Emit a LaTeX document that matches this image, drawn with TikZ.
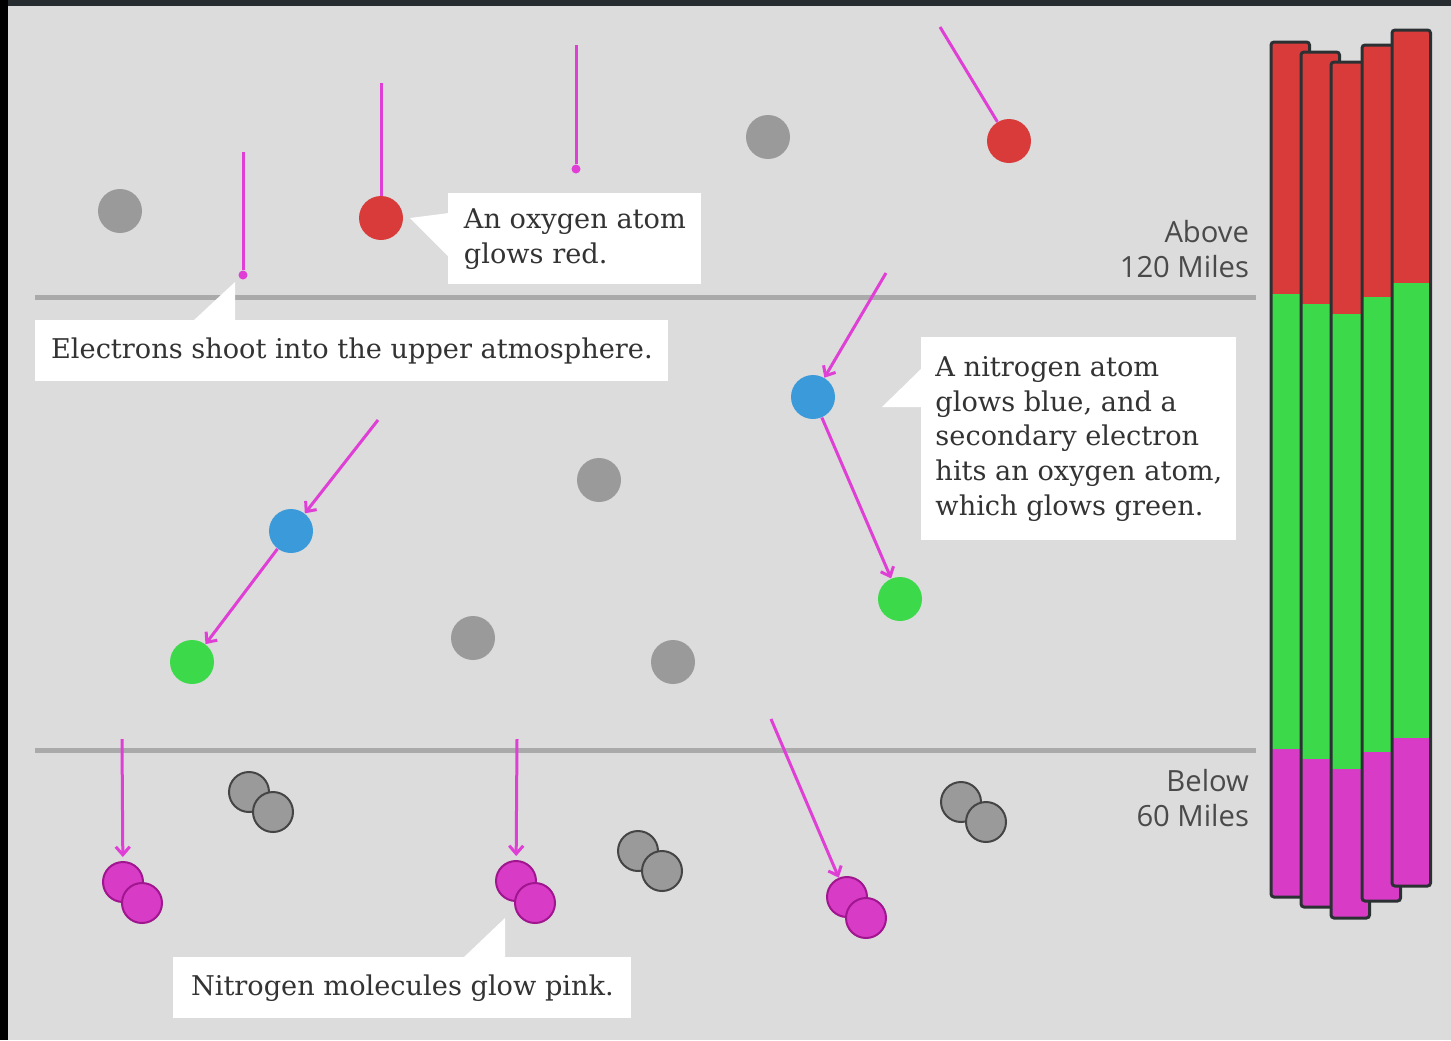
\documentclass[tikz,border=0pt]{standalone}
\usepackage{fontspec}
\setmainfont{DejaVu Serif}
\newfontfamily\milesfont{Open Sans}
\usepackage{tikz}
\usetikzlibrary{arrows.meta}
\usepackage{xcolor}

\definecolor{skybg}{HTML}{DCDCDC}
\definecolor{topbar}{HTML}{262C2F}
\definecolor{ruleline}{HTML}{AAAAAA}
\definecolor{inktext}{HTML}{333333}
\definecolor{milestext}{HTML}{4A4A4A}
\definecolor{atomgray}{HTML}{9A9A9A}
\definecolor{molgray}{HTML}{9A9A9A}
\definecolor{moledge}{HTML}{454545}
\definecolor{oxred}{HTML}{D93B3B}
\definecolor{nitblue}{HTML}{3A9ADA}
\definecolor{oxgreen}{HTML}{3CDA4A}
\definecolor{nitpink}{HTML}{D83BC6}
\definecolor{pinkedge}{HTML}{A0168F}
\definecolor{beam}{HTML}{E03FD6}
\definecolor{baredge}{HTML}{2B3133}

\begin{document}
\begin{tikzpicture}[
    x=0.5pt, y=-0.5pt,
    atom/.style={circle, inner sep=0pt, minimum size=22pt},
    mol/.style={circle, inner sep=0pt, minimum size=20pt, line width=1pt},
    beamline/.style={draw=beam, line width=1.5pt},
    beamarrow/.style={beamline, -{Straight Barb[length=4pt,width=7pt]}},
    beamdot/.style={circle, fill=beam, inner sep=0pt, minimum size=4.5pt},
    callout/.style={fill=white, text=inktext, align=left, inner sep=0pt,
        anchor=north west, font=\fontsize{13.6}{17.4}\selectfont},
    pointer/.style={fill=white},
    miles/.style={text=milestext, align=right, anchor=east,
        font=\milesfont\fontsize{14.6}{17.2}\selectfont},
    layerline/.style={draw=ruleline, line width=2.5pt}
]
\useasboundingbox (0,0) rectangle (1451,1040);

% background and frame edges
\fill[skybg] (0,0) rectangle (1451,1040);
\fill[topbar] (0,0) rectangle (1451,6);
\fill[black] (0,0) rectangle (8,1040);

% altitude lines
\draw[layerline] (35,297) -- (1256,297);
\draw[layerline] (35,750) -- (1256,750);

\node[miles] (above) at (1256,249) {Above\\120 Miles};
\node[miles] (below) at (1256,798) {Below\\60 Miles};

% Atoms placed manually
\node[atom, fill=atomgray] (g1) at (120,211) {};
\node[atom, fill=atomgray] (g2) at (768,137) {};
\node[atom, fill=atomgray] (g3) at (599,480) {};
\node[atom, fill=atomgray] (g4) at (473,638) {};
\node[atom, fill=atomgray] (g5) at (673,662) {};
\node[atom, fill=oxred] (redA) at (381,218) {};
\node[atom, fill=oxred] (redB) at (1009,141) {};
\node[atom, fill=nitblue] (blueA) at (291,531) {};
\node[atom, fill=nitblue] (blueB) at (813,397) {};
\node[atom, fill=oxgreen] (greenA) at (192,662) {};
\node[atom, fill=oxgreen] (greenB) at (900,599) {};

% Molecules (two overlapping circles)
\node[mol, draw=moledge, fill=molgray] (mA1) at (249,792) {};
\node[mol, draw=moledge, fill=molgray] (mA2) at (273,812) {};
\node[mol, draw=moledge, fill=molgray] (mB1) at (638,851) {};
\node[mol, draw=moledge, fill=molgray] (mB2) at (662,871) {};
\node[mol, draw=moledge, fill=molgray] (mC1) at (961,802) {};
\node[mol, draw=moledge, fill=molgray] (mC2) at (986,822) {};
\node[mol, draw=pinkedge, fill=nitpink] (pA1) at (123,882) {};
\node[mol, draw=pinkedge, fill=nitpink] (pA2) at (142,903) {};
\node[mol, draw=pinkedge, fill=nitpink] (pB1) at (516,881) {};
\node[mol, draw=pinkedge, fill=nitpink] (pB2) at (535,903) {};
\node[mol, draw=pinkedge, fill=nitpink] (pC1) at (847,897) {};
\node[mol, draw=pinkedge, fill=nitpink] (pC2) at (866,918) {};

% Electron start points
\coordinate (e1) at (243,152);
\coordinate (e2) at (381,83);
\coordinate (e3) at (576,45);
\coordinate (e4) at (940,27);
\coordinate (e5) at (886,273);
\coordinate (e6) at (378,420);
\coordinate (e7) at (122,739);
\coordinate (e8) at (517,739);
\coordinate (e9) at (771,719);
\node[beamdot] (d1) at (243,275) {};
\node[beamdot] (d3) at (576,169) {};

% Electron paths
\draw[beamline] (e1) -- (d1);
\draw[beamline] (e2) -- (redA);
\draw[beamline] (e3) -- (d3);
\draw[beamline] (e4) -- (redB);
\draw[beamarrow] (e5) -- (blueB);
\draw[beamarrow] (blueB) -- (greenB);
\draw[beamarrow] (e6) -- (blueA);
\draw[beamarrow] (blueA) -- (greenA);
\draw[beamarrow, shorten >=2pt] (e7) -- (pA1);
\draw[beamarrow, shorten >=2pt] (e8) -- (pB1);
\draw[beamarrow] (e9) -- (pC1);

% Color bars
\foreach \bx/\btop/\bgreen/\bpink/\bbot in {1271/42/294/749/897, 1301/52/304/759/907,
    1331/62/314/769/918, 1362/45/297/752/901, 1392/30/283/738/886} {
  \fill[oxred] (\bx,\btop) rectangle (\bx+38.5,\bgreen);
  \fill[oxgreen] (\bx,\bgreen) rectangle (\bx+38.5,\bpink);
  \fill[nitpink] (\bx,\bpink) rectangle (\bx+38.5,\bbot);
  \draw[draw=baredge, line width=1.5pt, rounded corners=1.5pt]
    (\bx,\btop) rectangle (\bx+38.5,\bbot);
}

% Callouts
\fill[pointer] (410,218) -- (449,213) -- (449,257) -- cycle;
\node[callout, minimum width=126.5pt, minimum height=45.5pt] (oxygen) at (448,193)
  {An oxygen atom\\glows red.};
\fill[pointer] (235,282) -- (235,321) -- (193,321) -- cycle;
\node[callout, minimum width=316.5pt, minimum height=30.5pt] (electrons) at (35,320)
  {Electrons shoot into the upper atmosphere.};
\fill[pointer] (882,407) -- (922,368) -- (922,407) -- cycle;
\node[callout, minimum width=157.5pt, minimum height=101.5pt] (nitrogen) at (921,337)
  {A nitrogen atom\\glows blue, and a\\secondary electron\\hits an oxygen atom,\\which glows green.};
\fill[pointer] (505,918) -- (505,958) -- (463,958) -- cycle;
\node[callout, minimum width=229pt, minimum height=30.5pt] (pink) at (173,957)
  {Nitrogen molecules glow pink.};
\end{tikzpicture}
\end{document}
